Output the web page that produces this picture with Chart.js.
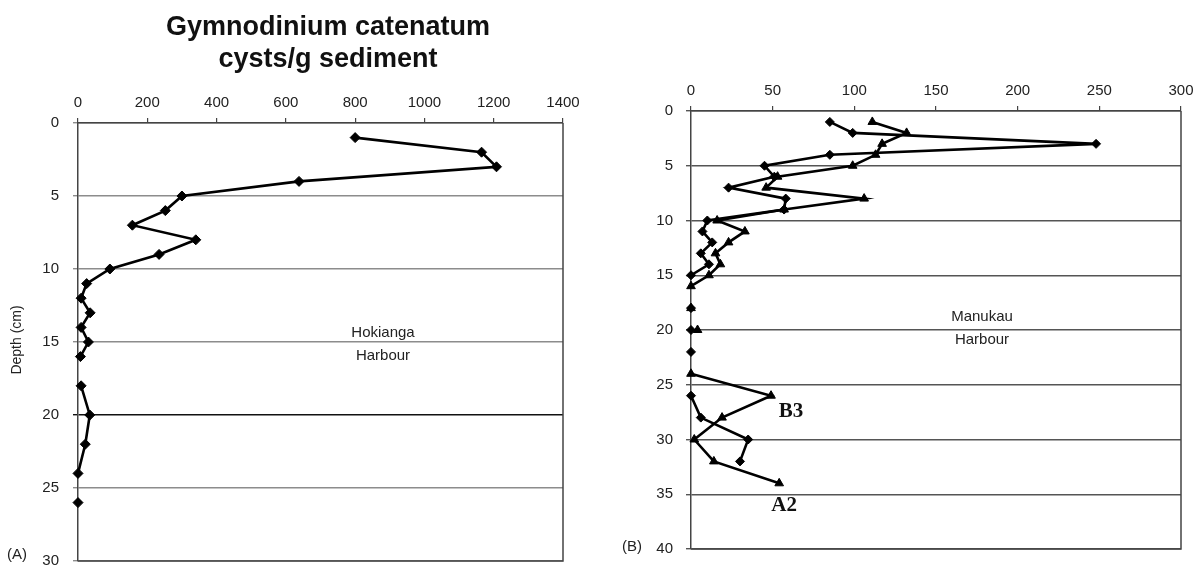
<!DOCTYPE html>
<html><head><meta charset="utf-8">
<script src="https://cdn.jsdelivr.net/npm/chart.js@4/dist/chart.umd.min.js"></script>
<style>
html,body{margin:0;padding:0;background:#fff;overflow:hidden;}
#wrap{position:relative;width:1204px;height:570px;overflow:hidden;}
canvas{position:absolute;top:0;}
#cA{left:0;} #cB{left:600px;}
</style></head><body>
<div id="wrap"><canvas id="cA" width="600" height="591"></canvas><canvas id="cB" width="604" height="579"></canvas></div>
<script>
// ---------- DATA ----------
// Panel A: Hokianga Harbour (null = no value, line is broken)
const hokiangaDepth = [1,2,3,4,5,6,7,8,9,10,11,12,13,14,15,16,17,18,20,22,24,25,26];
const hokiangaCysts = [800,1165,1208,638,300,252,157,340,234,92,25,9,35,9,30,7,null,9,34,21,0,null,0];
const hokiangaXTicks = [0,200,400,600,800,1000,1200,1400];
const hokiangaYTicks = [0,5,10,15,20,25,30];

// Panel B: Manukau Harbour, two cores
const manukauB3Depth = [1,2,3,4,5,6,7,8,9,10,11,12,13,14,15,17,18,19,20,21,22,23,26,28,30,32];
const manukauB3Cysts = [85,99,248,85,45,51,23,58,57,10,7,13,6,11,0,null,0,null,0,null,0,null,0,6,35,30];
const manukauA2Depth = [1,2,3,4,5,6,7,8,9,10,11,12,13,14,15,16,17,18,19,20,21,24,26,28,30,32,34];
const manukauA2Cysts = [111,132,117,113,99,53,46,106,57,16,33,23,15,18,11,0,null,0,null,4,null,0,49,19,2,14,54];
const manukauXTicks = [0,50,100,150,200,250,300];
const manukauYTicks = [0,5,10,15,20,25,30,35,40];

// ---------- HELPERS ----------
const FONT = "'Liberation Sans', Arial, sans-serif";
function toPoints(depths, values){
  return depths.map((d,i)=>({x: values[i]===null ? 0 : values[i], y: values[i]===null ? null : d}));
}
function fixedTicks(list){ return function(scale){ scale.ticks = list.map(v=>({value:v})); }; }

function makeChart(canvasId, cfg){
  const pad = cfg.pad;
  return new Chart(document.getElementById(canvasId), {
    type: 'scatter',
    data: { datasets: cfg.datasets },
    options: {
      responsive: false, animation: false, devicePixelRatio: 1,
      layout: { padding: { left: 0, top: 0, right: pad.right, bottom: pad.bottom } },
      plugins: { legend: { display: false }, tooltip: { enabled: false } },
      scales: {
        x: {
          type: 'linear', position: 'top', min: cfg.xMin, max: cfg.xMax,
          afterBuildTicks: fixedTicks(cfg.xTicks),
          afterFit: s => { s.height = pad.top; },
          grid: { drawOnChartArea: false, drawTicks: true, tickLength: 5, color: '#444', lineWidth: 1.2 },
          border: { display: true, color: '#444', width: 1.5 },
          ticks: { color: '#222', font: { family: FONT, size: 15 }, padding: cfg.xPad, maxRotation: 0, autoSkip: false,
                   callback: v => String(v) }
        },
        y: {
          type: 'linear', position: 'left', reverse: true, min: cfg.yMin, max: cfg.yMax,
          afterBuildTicks: fixedTicks(cfg.yTicks),
          afterFit: s => { s.width = pad.left; },
          grid: { drawOnChartArea: true, drawTicks: true, tickLength: 5,
                  color: c => cfg.gridColor(c.tick ? c.tick.value : 0), lineWidth: 1.4 },
          border: { display: true, color: '#444', width: 1.5 },
          ticks: { color: '#222', font: { family: FONT, size: 15 }, padding: cfg.yPad, autoSkip: false,
                   callback: v => String(v) }
        }
      }
    },
    plugins: [cfg.plugin]
  });
}

function frame(chart){
  const {ctx, chartArea:a} = chart;
  ctx.save();
  ctx.strokeStyle = '#444'; ctx.lineWidth = 1.5;
  ctx.beginPath(); ctx.moveTo(a.right, a.top); ctx.lineTo(a.right, a.bottom); ctx.lineTo(a.left, a.bottom); ctx.stroke();
  ctx.restore();
}

function seriesStyle(shape, radius){
  return { showLine: true, borderColor: '#000', backgroundColor: '#000', borderWidth: 2.6, tension: 0,
           pointStyle: shape, pointRadius: radius, pointBorderWidth: 1, pointBackgroundColor: '#000',
           pointBorderColor: '#000', clip: false };
}

// ---------- PANEL A ----------
makeChart('cA', {
  pad: { left: 78, top: 123, right: 37, bottom: 30 },
  xMin: 0, xMax: 1400, yMin: 0, yMax: 30, xTicks: hokiangaXTicks, yTicks: hokiangaYTicks,
  xPad: 6, yPad: 14,
  gridColor: v => v === 20 ? '#111' : '#8c8c8c',
  datasets: [ Object.assign({ label: 'Hokianga', data: toPoints(hokiangaDepth, hokiangaCysts) }, seriesStyle('rectRot', 5)) ],
  plugin: {
    id: 'decorA',
    beforeDatasetsDraw: frame,
    afterDraw(chart){
      const ctx = chart.ctx;
      ctx.save();
      ctx.fillStyle = '#111'; ctx.textAlign = 'center'; ctx.textBaseline = 'middle';
      ctx.font = 'bold 27px ' + FONT;
      ctx.fillText('Gymnodinium catenatum', 328, 28);
      ctx.fillText('cysts/g sediment', 328, 60);
      ctx.fillStyle = '#222';
      ctx.font = '15px ' + FONT;
      ctx.fillText('Hokianga', 383, 333);
      ctx.fillText('Harbour', 383, 356);
      ctx.textAlign = 'left';
      ctx.fillText('(A)', 7, 555);
      ctx.translate(17, 340); ctx.rotate(-Math.PI/2);
      ctx.textAlign = 'center';
      ctx.font = '14px ' + FONT;
      ctx.fillText('Depth (cm)', 0, 0);
      ctx.restore();
    }
  }
});

// ---------- PANEL B ----------
makeChart('cB', {
  pad: { left: 91, top: 111, right: 23, bottom: 30 },
  xMin: 0, xMax: 300, yMin: 0, yMax: 40, xTicks: manukauXTicks, yTicks: manukauYTicks,
  xPad: 6, yPad: 13,
  gridColor: v => '#555',
  datasets: [
    Object.assign({ label: 'B3', data: toPoints(manukauB3Depth, manukauB3Cysts) }, seriesStyle('rectRot', 4.5)),
    Object.assign({ label: 'A2', data: toPoints(manukauA2Depth, manukauA2Cysts) }, seriesStyle('triangle', 5))
  ],
  plugin: {
    id: 'decorB',
    beforeDatasetsDraw: frame,
    afterDraw(chart){
      const ctx = chart.ctx, xs = chart.scales.x, ys = chart.scales.y;
      ctx.save();
      ctx.fillStyle = '#222'; ctx.textAlign = 'center'; ctx.textBaseline = 'middle';
      ctx.font = '15px ' + FONT;
      ctx.fillText('Manukau', 382, 317);
      ctx.fillText('Harbour', 382, 340);
      ctx.textAlign = 'left';
      ctx.fillText('(B)', 22, 547);
      // core labels next to their annotated points
      ctx.fillStyle = '#111';
      ctx.textAlign = 'center';
      ctx.font = 'bold 21px "Liberation Serif", "Times New Roman", serif';
      const iB = manukauA2Depth.indexOf(26), iA = manukauA2Depth.length - 1;
      ctx.fillText('B3', xs.getPixelForValue(manukauA2Cysts[iB]) + 20, ys.getPixelForValue(manukauA2Depth[iB]) + 16);
      ctx.fillText('A2', xs.getPixelForValue(manukauA2Cysts[iA]) + 5, ys.getPixelForValue(manukauA2Depth[iA]) + 22);
      ctx.restore();
    }
  }
});
</script></body></html>
